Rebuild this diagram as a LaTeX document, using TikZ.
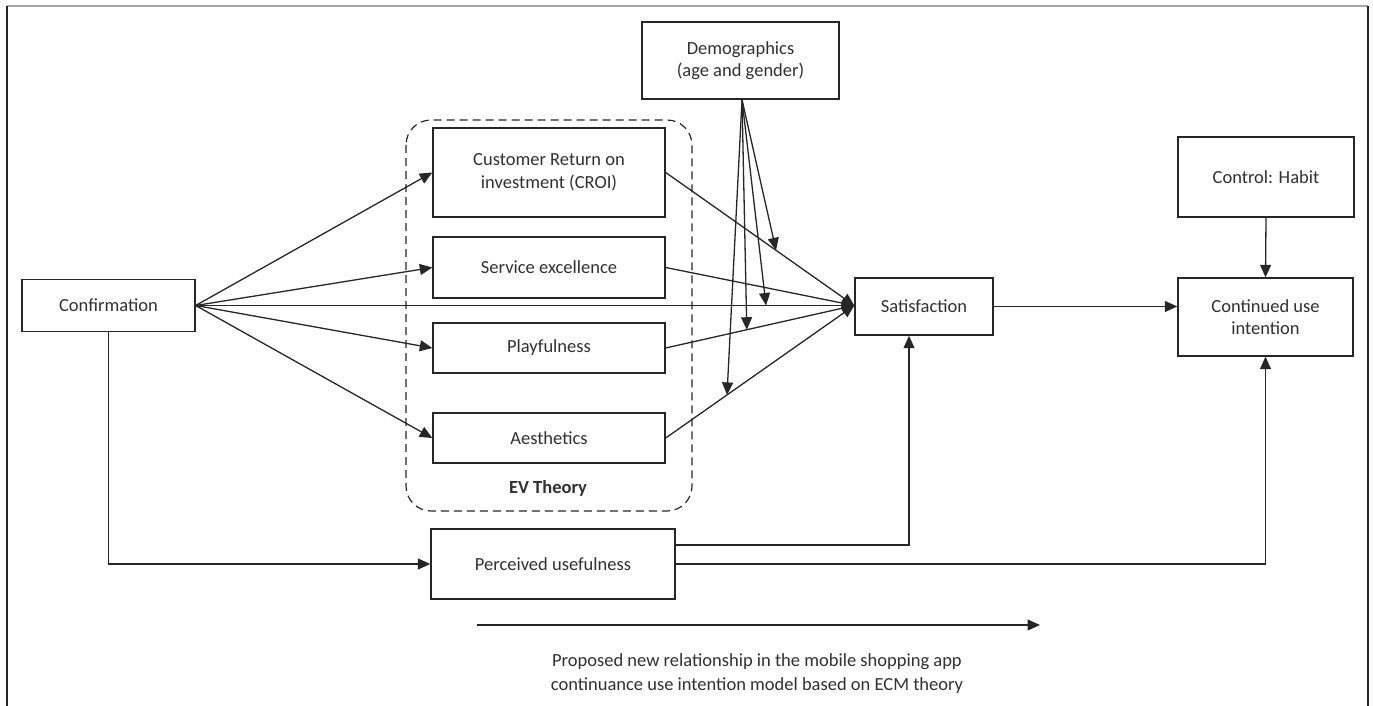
\documentclass[tikz,border=0pt]{standalone}
\usepackage{fontspec}
\setmainfont{Carlito}
\usetikzlibrary{arrows.meta,calc}
\definecolor{ink}{HTML}{262626}
\definecolor{txt}{HTML}{303030}
\tikzset{
  box/.style={draw=ink, line width=1.4pt, inner sep=0pt, align=center, text=txt,
    font=\fontsize{18.5}{22.5}\selectfont},
  conn/.style={draw=ink, line width=1.3pt},
  arr/.style={conn, -{Triangle[length=12.5pt,width=11pt]}},
}
\begin{document}
\begin{tikzpicture}[x=1pt,y=-1pt]
\useasboundingbox (0,0) rectangle (1373,706);
% frame
\draw[gray!70, line width=2pt] (7,6) -- (1368,6);
\draw[ink, line width=1.4pt] (7,6) -- (7,706);
\draw[ink, line width=1.4pt] (1368,6) -- (1368,706);
% EV theory dashed box
\draw[ink, line width=1.2pt, dash pattern=on 8pt off 5pt, rounded corners=25pt] (406,120) rectangle (692,511);
\node[text=txt, font=\fontsize{18.5}{22.5}\selectfont\bfseries] (evlabel) at (548,488) {EV Theory};
% nodes
\node[box, minimum width=173pt, minimum height=52pt] (conf) at (108.5,305.5) {Confirmation};
\node[box, minimum width=232pt, minimum height=89pt] (croi) at (549,172.5) {Customer Return on\\investment (CROI)};
\node[box, minimum width=232pt, minimum height=61pt] (serv) at (549,267.5) {Service excellence};
\node[box, minimum width=232pt, minimum height=50pt] (play) at (549,348) {Playfulness};
\node[box, minimum width=232pt, minimum height=50pt] (aest) at (549,438) {Aesthetics};
\node[box, minimum width=138pt, minimum height=57pt] (sat) at (924,306.5) {Satisfaction};
\node[box, minimum width=197pt, minimum height=77pt] (demo) at (740.5,60.5) {Demographics\\(age and gender)};
\node[box, minimum width=176pt, minimum height=80pt] (habit) at (1266,177) {Control: Habit};
\node[box, minimum width=175pt, minimum height=78pt] (cont) at (1265.5,317) {Continued use\\intention};
\node[box, minimum width=244pt, minimum height=70pt] (pu) at (553,564) {Perceived usefulness};
% confirmation arrows
\draw[arr] (conf.east) -- (croi.west);
\draw[arr] (conf.east) -- (serv.west);
\draw[arr] (conf.east) -- (play.west);
\draw[arr] (conf.east) -- (aest.west);
\draw[arr] (conf.east) -- (conf.east -| sat.west);
% EV to satisfaction
\draw[arr] (croi.east) -- (conf.east -| sat.west);
\draw[arr] (serv.east) -- (conf.east -| sat.west);
\draw[arr] (play.east) -- (conf.east -| sat.west);
\draw[arr] (aest.east) -- (conf.east -| sat.west);
% moderation targets
\coordinate (m1) at ($(croi.east)!0.585!(conf.east -| sat.west)$);
\coordinate (m2) at ($(conf.east)!0.866!(conf.east -| sat.west)$);
\coordinate (m3) at ($(play.east)!0.43!(conf.east -| sat.west)$);
\coordinate (m4) at ($(aest.east)!0.325!(conf.east -| sat.west)$);
\coordinate (d0) at ($(demo.south)+(1.5,0)$);
\draw[arr] (d0) -- (m1);
\draw[arr] (d0) -- (m2);
\draw[arr] (d0) -- (m3);
\draw[arr] (d0) -- (m4);
% satisfaction to continued
\draw[arr] (sat.east) -- (sat.east -| cont.west);
\draw[arr] (habit.south) -- (cont.north);
% perceived usefulness links
\draw[arr] (conf.south) |- (pu.west);
\coordinate (puA) at ($(pu.east)+(0,-19)$);
\coordinate (satB) at ($(sat.south)+(-15,0)$);
\draw[arr] (puA) -| (satB);
\draw[arr] (pu.east) -| (cont.south);
% bottom legend arrow
\coordinate (la) at (477,625);
\coordinate (lb) at (1040,625);
\draw[arr] (la) -- (lb);
\node[text=txt, align=center, font=\fontsize{18.5}{24}\selectfont] (cap) at (757,674) {Proposed new relationship in the mobile shopping app\\continuance use intention model based on ECM theory};
\end{tikzpicture}
\end{document}
